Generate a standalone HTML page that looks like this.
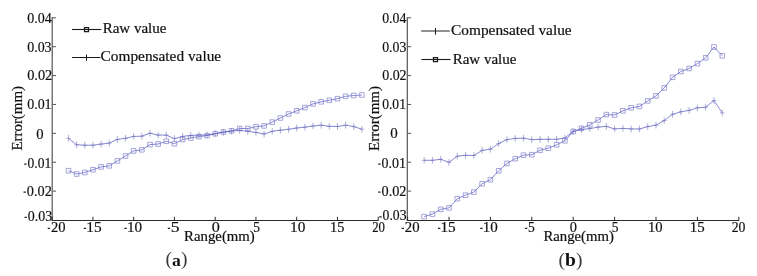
<!DOCTYPE html>
<html><head><meta charset="utf-8"><style>
html,body{margin:0;padding:0;background:#fff;width:757px;height:276px;overflow:hidden}
svg{display:block;will-change:transform}
text{font-family:"Liberation Serif",serif;fill:#111;stroke:#111;stroke-width:0.2px}
</style></head><body>
<svg width="757" height="276" viewBox="0 0 757 276">
<rect width="757" height="276" fill="#fff"/>
<path d="M52.2 17.3V220.5" fill="none" stroke="#555" stroke-width="1.2"/>
<path d="M51.6 220.5H378.7" fill="none" stroke="#2a2a2a" stroke-width="1.1"/>
<path d="M52.2 17.8h3.8M52.2 46.69h3.8M52.2 75.57h3.8M52.2 104.46h3.8M52.2 133.34h3.8M52.2 162.23h3.8M52.2 191.12h3.8" fill="none" stroke="#555" stroke-width="1"/>
<path d="M52.2 220v-3.2M92.95 220v-3.2M133.7 220v-3.2M174.45 220v-3.2M215.2 220v-3.2M255.95 220v-3.2M296.7 220v-3.2M337.45 220v-3.2M378.2 220v-3.2" fill="none" stroke="#2a2a2a" stroke-width="1"/>
<path d="M407.3 17.3V220.5" fill="none" stroke="#555" stroke-width="1.2"/>
<path d="M406.7 220.5H739.3" fill="none" stroke="#2a2a2a" stroke-width="1.1"/>
<path d="M407.3 17.8h3.8M407.3 46.69h3.8M407.3 75.57h3.8M407.3 104.46h3.8M407.3 133.34h3.8M407.3 162.23h3.8M407.3 191.12h3.8" fill="none" stroke="#555" stroke-width="1"/>
<path d="M407.6 220v-3.2M449 220v-3.2M490.4 220v-3.2M531.8 220v-3.2M573.2 220v-3.2M614.6 220v-3.2M656 220v-3.2M697.4 220v-3.2M738.8 220v-3.2" fill="none" stroke="#2a2a2a" stroke-width="1"/>
<path d="M68.5 170.7 L76.65 174 L84.8 172.5 L92.95 169.7 L101.1 166.9 L109.25 165.8 L117.4 160.9 L125.55 156 L133.7 150.9 L141.85 149.8 L150 144.6 L158.15 144 L166.3 141.3 L174.45 143.7 L182.6 139.5 L190.75 138 L198.9 136.6 L207.05 135.6 L215.2 133.7 L223.35 132 L231.5 130.8 L239.65 128.5 L247.8 128.5 L255.95 126.7 L264.1 125.9 L272.25 122.1 L280.4 118 L288.55 114 L296.7 110.8 L304.85 107.6 L313 103.9 L321.15 101.8 L329.3 100.3 L337.45 98.7 L345.6 96.3 L353.75 95.5 L361.9 95" fill="none" stroke="#4a4ac0" stroke-width="0.65" stroke-linejoin="round"/>
<path d="M66.2 168.4h4.6v4.6h-4.6zM74.35 171.7h4.6v4.6h-4.6zM82.5 170.2h4.6v4.6h-4.6zM90.65 167.4h4.6v4.6h-4.6zM98.8 164.6h4.6v4.6h-4.6zM106.95 163.5h4.6v4.6h-4.6zM115.1 158.6h4.6v4.6h-4.6zM123.25 153.7h4.6v4.6h-4.6zM131.4 148.6h4.6v4.6h-4.6zM139.55 147.5h4.6v4.6h-4.6zM147.7 142.3h4.6v4.6h-4.6zM155.85 141.7h4.6v4.6h-4.6zM164 139h4.6v4.6h-4.6zM172.15 141.4h4.6v4.6h-4.6zM180.3 137.2h4.6v4.6h-4.6zM188.45 135.7h4.6v4.6h-4.6zM196.6 134.3h4.6v4.6h-4.6zM204.75 133.3h4.6v4.6h-4.6zM212.9 131.4h4.6v4.6h-4.6zM221.05 129.7h4.6v4.6h-4.6zM229.2 128.5h4.6v4.6h-4.6zM237.35 126.2h4.6v4.6h-4.6zM245.5 126.2h4.6v4.6h-4.6zM253.65 124.4h4.6v4.6h-4.6zM261.8 123.6h4.6v4.6h-4.6zM269.95 119.8h4.6v4.6h-4.6zM278.1 115.7h4.6v4.6h-4.6zM286.25 111.7h4.6v4.6h-4.6zM294.4 108.5h4.6v4.6h-4.6zM302.55 105.3h4.6v4.6h-4.6zM310.7 101.6h4.6v4.6h-4.6zM318.85 99.5h4.6v4.6h-4.6zM327 98h4.6v4.6h-4.6zM335.15 96.4h4.6v4.6h-4.6zM343.3 94h4.6v4.6h-4.6zM351.45 93.2h4.6v4.6h-4.6zM359.6 92.7h4.6v4.6h-4.6z" fill="none" stroke="#8080cc" stroke-width="0.7"/>
<path d="M68.5 138.3 L76.65 144.8 L84.8 145.2 L92.95 145.2 L101.1 144.1 L109.25 143.1 L117.4 139.4 L125.55 138.3 L133.7 136.4 L141.85 136.2 L150 133.2 L158.15 135.1 L166.3 135.1 L174.45 138.6 L182.6 136.4 L190.75 135.4 L198.9 135.1 L207.05 135 L215.2 133.6 L223.35 132.3 L231.5 131.2 L239.65 130.3 L247.8 131.4 L255.95 132.4 L264.1 134 L272.25 131.3 L280.4 130.2 L288.55 129.3 L296.7 128 L304.85 127.2 L313 126 L321.15 125.2 L329.3 126.3 L337.45 126.5 L345.6 125.2 L353.75 126.6 L361.9 129.2" fill="none" stroke="#4a4ac0" stroke-width="0.65" stroke-linejoin="round"/>
<path d="M66.2 138.3h4.6M68.5 135v6.6M74.35 144.8h4.6M76.65 141.5v6.6M82.5 145.2h4.6M84.8 141.9v6.6M90.65 145.2h4.6M92.95 141.9v6.6M98.8 144.1h4.6M101.1 140.8v6.6M106.95 143.1h4.6M109.25 139.8v6.6M115.1 139.4h4.6M117.4 136.1v6.6M123.25 138.3h4.6M125.55 135v6.6M131.4 136.4h4.6M133.7 133.1v6.6M139.55 136.2h4.6M141.85 132.9v6.6M147.7 133.2h4.6M150 129.9v6.6M155.85 135.1h4.6M158.15 131.8v6.6M164 135.1h4.6M166.3 131.8v6.6M172.15 138.6h4.6M174.45 135.3v6.6M180.3 136.4h4.6M182.6 133.1v6.6M188.45 135.4h4.6M190.75 132.1v6.6M196.6 135.1h4.6M198.9 131.8v6.6M204.75 135h4.6M207.05 131.7v6.6M212.9 133.6h4.6M215.2 130.3v6.6M221.05 132.3h4.6M223.35 129v6.6M229.2 131.2h4.6M231.5 127.9v6.6M237.35 130.3h4.6M239.65 127v6.6M245.5 131.4h4.6M247.8 128.1v6.6M253.65 132.4h4.6M255.95 129.1v6.6M261.8 134h4.6M264.1 130.7v6.6M269.95 131.3h4.6M272.25 128v6.6M278.1 130.2h4.6M280.4 126.9v6.6M286.25 129.3h4.6M288.55 126v6.6M294.4 128h4.6M296.7 124.7v6.6M302.55 127.2h4.6M304.85 123.9v6.6M310.7 126h4.6M313 122.7v6.6M318.85 125.2h4.6M321.15 121.9v6.6M327 126.3h4.6M329.3 123v6.6M335.15 126.5h4.6M337.45 123.2v6.6M343.3 125.2h4.6M345.6 121.9v6.6M351.45 126.6h4.6M353.75 123.3v6.6M359.6 129.2h4.6M361.9 125.9v6.6" fill="none" stroke="#7474bc" stroke-width="0.6"/>
<path d="M424.16 160.3 L432.44 160.3 L440.72 159.3 L449 162.3 L457.28 156.2 L465.56 155.3 L473.84 155.5 L482.12 150.4 L490.4 149.2 L498.68 143.6 L506.96 139.6 L515.24 138.4 L523.52 138.2 L531.8 139.6 L540.08 139.3 L548.36 139.3 L556.64 139.3 L564.92 137.9 L573.2 131.4 L581.48 129.6 L589.76 128.6 L598.04 127.1 L606.32 126.4 L614.6 128.9 L622.88 128.4 L631.16 128.9 L639.44 129 L647.72 126.6 L656 125.2 L664.28 120.5 L672.56 114.3 L680.84 111.8 L689.12 110.4 L697.4 107.8 L705.68 107.2 L713.96 100.5 L722.24 112.9" fill="none" stroke="#4a4ac0" stroke-width="0.65" stroke-linejoin="round"/>
<path d="M421.86 160.3h4.6M424.16 157v6.6M430.14 160.3h4.6M432.44 157v6.6M438.42 159.3h4.6M440.72 156v6.6M446.7 162.3h4.6M449 159v6.6M454.98 156.2h4.6M457.28 152.9v6.6M463.26 155.3h4.6M465.56 152v6.6M471.54 155.5h4.6M473.84 152.2v6.6M479.82 150.4h4.6M482.12 147.1v6.6M488.1 149.2h4.6M490.4 145.9v6.6M496.38 143.6h4.6M498.68 140.3v6.6M504.66 139.6h4.6M506.96 136.3v6.6M512.94 138.4h4.6M515.24 135.1v6.6M521.22 138.2h4.6M523.52 134.9v6.6M529.5 139.6h4.6M531.8 136.3v6.6M537.78 139.3h4.6M540.08 136v6.6M546.06 139.3h4.6M548.36 136v6.6M554.34 139.3h4.6M556.64 136v6.6M562.62 137.9h4.6M564.92 134.6v6.6M570.9 131.4h4.6M573.2 128.1v6.6M579.18 129.6h4.6M581.48 126.3v6.6M587.46 128.6h4.6M589.76 125.3v6.6M595.74 127.1h4.6M598.04 123.8v6.6M604.02 126.4h4.6M606.32 123.1v6.6M612.3 128.9h4.6M614.6 125.6v6.6M620.58 128.4h4.6M622.88 125.1v6.6M628.86 128.9h4.6M631.16 125.6v6.6M637.14 129h4.6M639.44 125.7v6.6M645.42 126.6h4.6M647.72 123.3v6.6M653.7 125.2h4.6M656 121.9v6.6M661.98 120.5h4.6M664.28 117.2v6.6M670.26 114.3h4.6M672.56 111v6.6M678.54 111.8h4.6M680.84 108.5v6.6M686.82 110.4h4.6M689.12 107.1v6.6M695.1 107.8h4.6M697.4 104.5v6.6M703.38 107.2h4.6M705.68 103.9v6.6M711.66 100.5h4.6M713.96 97.2v6.6M719.94 112.9h4.6M722.24 109.6v6.6" fill="none" stroke="#7474bc" stroke-width="0.6"/>
<path d="M424.16 216.6 L432.44 214.1 L440.72 209.3 L449 207.9 L457.28 198.7 L465.56 195.2 L473.84 192.1 L482.12 183.8 L490.4 179.7 L498.68 170.8 L506.96 163.4 L515.24 158.7 L523.52 155.2 L531.8 154.7 L540.08 150.3 L548.36 148.2 L556.64 144.8 L564.92 140.8 L573.2 131.5 L581.48 128.3 L589.76 124.8 L598.04 120 L606.32 114.6 L614.6 115 L622.88 110.8 L631.16 107.8 L639.44 106.4 L647.72 100.9 L656 95.9 L664.28 87.9 L672.56 77.3 L680.84 71.5 L689.12 68.5 L697.4 63.6 L705.68 57.8 L713.96 47 L722.24 55.8" fill="none" stroke="#4a4ac0" stroke-width="0.65" stroke-linejoin="round"/>
<path d="M421.86 214.3h4.6v4.6h-4.6zM430.14 211.8h4.6v4.6h-4.6zM438.42 207h4.6v4.6h-4.6zM446.7 205.6h4.6v4.6h-4.6zM454.98 196.4h4.6v4.6h-4.6zM463.26 192.9h4.6v4.6h-4.6zM471.54 189.8h4.6v4.6h-4.6zM479.82 181.5h4.6v4.6h-4.6zM488.1 177.4h4.6v4.6h-4.6zM496.38 168.5h4.6v4.6h-4.6zM504.66 161.1h4.6v4.6h-4.6zM512.94 156.4h4.6v4.6h-4.6zM521.22 152.9h4.6v4.6h-4.6zM529.5 152.4h4.6v4.6h-4.6zM537.78 148h4.6v4.6h-4.6zM546.06 145.9h4.6v4.6h-4.6zM554.34 142.5h4.6v4.6h-4.6zM562.62 138.5h4.6v4.6h-4.6zM570.9 129.2h4.6v4.6h-4.6zM579.18 126h4.6v4.6h-4.6zM587.46 122.5h4.6v4.6h-4.6zM595.74 117.7h4.6v4.6h-4.6zM604.02 112.3h4.6v4.6h-4.6zM612.3 112.7h4.6v4.6h-4.6zM620.58 108.5h4.6v4.6h-4.6zM628.86 105.5h4.6v4.6h-4.6zM637.14 104.1h4.6v4.6h-4.6zM645.42 98.6h4.6v4.6h-4.6zM653.7 93.6h4.6v4.6h-4.6zM661.98 85.6h4.6v4.6h-4.6zM670.26 75h4.6v4.6h-4.6zM678.54 69.2h4.6v4.6h-4.6zM686.82 66.2h4.6v4.6h-4.6zM695.1 61.3h4.6v4.6h-4.6zM703.38 55.5h4.6v4.6h-4.6zM711.66 44.7h4.6v4.6h-4.6zM719.94 53.5h4.6v4.6h-4.6z" fill="none" stroke="#8080cc" stroke-width="0.7"/>
<path d="M72 29.5H101.2" fill="none" stroke="#1a1a1a" stroke-width="1.1"/>
<path d="M84.5 27.5h4v4h-4z" fill="none" stroke="#1a1a1a" stroke-width="1.25"/>
<path d="M72 57.5H100.5M86.5 54.6v6.2" fill="none" stroke="#1a1a1a" stroke-width="1"/>
<path d="M421.2 31H449.8" fill="none" stroke="#222" stroke-width="1"/>
<path d="M435.5 28v6.7" fill="none" stroke="#1a1a1a" stroke-width="1"/>
<path d="M421.4 59.5H450.5" fill="none" stroke="#1a1a1a" stroke-width="1.1"/>
<path d="M433.5 57.5h4v4h-4z" fill="none" stroke="#1a1a1a" stroke-width="1.25"/>
<path d="M24.20 164.10H26.60M23.50 192.20H25.90M24.50 217.40H26.90M378.20 164.10H380.60M378.20 192.20H380.60M379.20 216.80H381.60M47.70 228.30H50.10M83.70 228.30H86.10M124.30 228.30H126.70M167.80 228.30H170.20M401.60 228.30H404.00M437.90 228.30H440.30M480.20 228.30H482.60M524.90 228.30H527.30" fill="none" stroke="#222" stroke-width="1.2"/>
<text x="27.17" y="22.97" font-size="15.20" textLength="24.53" lengthAdjust="spacingAndGlyphs">0.04</text>
<text x="27.18" y="51.97" font-size="15.20" textLength="24.40" lengthAdjust="spacingAndGlyphs">0.03</text>
<text x="27.16" y="79.87" font-size="15.20" textLength="25.06" lengthAdjust="spacingAndGlyphs">0.02</text>
<text x="27.18" y="108.97" font-size="15.20" textLength="24.40" lengthAdjust="spacingAndGlyphs">0.01</text>
<text x="36.15" y="138.78" font-size="15.20" textLength="7.33" lengthAdjust="spacingAndGlyphs">0</text>
<text x="27.57" y="167.87" font-size="15.20" textLength="23.65" lengthAdjust="spacingAndGlyphs">0.01</text>
<text x="26.84" y="195.90" font-size="15.20" textLength="24.97" lengthAdjust="spacingAndGlyphs">0.02</text>
<text x="27.85" y="221.21" font-size="15.20" textLength="24.37" lengthAdjust="spacingAndGlyphs">0.03</text>
<text x="382.19" y="22.90" font-size="15.20" textLength="24.14" lengthAdjust="spacingAndGlyphs">0.04</text>
<text x="382.19" y="51.90" font-size="15.20" textLength="24.13" lengthAdjust="spacingAndGlyphs">0.03</text>
<text x="382.18" y="79.87" font-size="15.20" textLength="24.40" lengthAdjust="spacingAndGlyphs">0.02</text>
<text x="382.20" y="108.88" font-size="15.20" textLength="23.73" lengthAdjust="spacingAndGlyphs">0.01</text>
<text x="390.23" y="138.09" font-size="15.20" textLength="7.49" lengthAdjust="spacingAndGlyphs">0</text>
<text x="381.53" y="167.79" font-size="15.20" textLength="24.45" lengthAdjust="spacingAndGlyphs">0.01</text>
<text x="381.54" y="195.90" font-size="15.20" textLength="24.97" lengthAdjust="spacingAndGlyphs">0.02</text>
<text x="382.56" y="220.28" font-size="15.20" textLength="23.97" lengthAdjust="spacingAndGlyphs">0.03</text>
<text x="50.99" y="232.00" font-size="14.70" textLength="14.61" lengthAdjust="spacingAndGlyphs">20</text>
<text x="86.23" y="232.00" font-size="14.70" textLength="15.41" lengthAdjust="spacingAndGlyphs">15</text>
<text x="126.95" y="232.00" font-size="14.70" textLength="15.16" lengthAdjust="spacingAndGlyphs">10</text>
<text x="170.80" y="232.00" font-size="14.70" textLength="8.82" lengthAdjust="spacingAndGlyphs">5</text>
<text x="211.80" y="232.00" font-size="14.70" textLength="8.06" lengthAdjust="spacingAndGlyphs">0</text>
<text x="253.35" y="232.00" font-size="14.70" textLength="6.73" lengthAdjust="spacingAndGlyphs">5</text>
<text x="290.10" y="232.00" font-size="14.70" textLength="15.33" lengthAdjust="spacingAndGlyphs">10</text>
<text x="330.10" y="232.00" font-size="14.70" textLength="14.32" lengthAdjust="spacingAndGlyphs">15</text>
<text x="372.20" y="232.00" font-size="14.70" textLength="12.81" lengthAdjust="spacingAndGlyphs">20</text>
<text x="404.89" y="232.00" font-size="14.70" textLength="14.77" lengthAdjust="spacingAndGlyphs">20</text>
<text x="440.43" y="232.00" font-size="14.70" textLength="15.30" lengthAdjust="spacingAndGlyphs">15</text>
<text x="482.85" y="232.00" font-size="14.70" textLength="15.03" lengthAdjust="spacingAndGlyphs">10</text>
<text x="528.01" y="232.00" font-size="14.70" textLength="6.77" lengthAdjust="spacingAndGlyphs">5</text>
<text x="569.86" y="232.00" font-size="14.70" textLength="7.18" lengthAdjust="spacingAndGlyphs">0</text>
<text x="611.64" y="232.00" font-size="14.70" textLength="6.74" lengthAdjust="spacingAndGlyphs">5</text>
<text x="648.07" y="232.00" font-size="14.70" textLength="14.60" lengthAdjust="spacingAndGlyphs">10</text>
<text x="689.76" y="232.00" font-size="14.70" textLength="14.90" lengthAdjust="spacingAndGlyphs">15</text>
<text x="731.69" y="232.00" font-size="14.70" textLength="13.76" lengthAdjust="spacingAndGlyphs">20</text>
<text x="102.67" y="32.97" font-size="14.20" textLength="63.82" lengthAdjust="spacingAndGlyphs">Raw value</text>
<text x="100.62" y="61.26" font-size="14.20" textLength="120.53" lengthAdjust="spacingAndGlyphs">Compensated value</text>
<text x="451.12" y="34.79" font-size="14.20" textLength="120.53" lengthAdjust="spacingAndGlyphs">Compensated value</text>
<text x="452.67" y="63.54" font-size="14.20" textLength="63.70" lengthAdjust="spacingAndGlyphs">Raw value</text>
<text x="184.08" y="240.94" font-size="14.30" textLength="70.71" lengthAdjust="spacingAndGlyphs">Range(mm)</text>
<text x="543.40" y="241.02" font-size="14.30" textLength="70.46" lengthAdjust="spacingAndGlyphs">Range(mm)</text>
<text transform="translate(22.15 150.55) rotate(-90)" font-size="14.30" textLength="64.50" lengthAdjust="spacingAndGlyphs">Error(mm)</text>
<text transform="translate(378.94 150.95) rotate(-90)" font-size="14.30" textLength="64.88" lengthAdjust="spacingAndGlyphs">Error(mm)</text>
<text x="165.55" y="265.35" font-size="19.60" textLength="21.90" lengthAdjust="spacingAndGlyphs" style="stroke-width:0;fill:#3a3a3a">(<tspan font-weight="bold" font-size="17.6" dy="0.7" style="fill:#111">a</tspan><tspan dy="-0.7">)</tspan></text>
<text x="558.62" y="265.72" font-size="19.60" textLength="23.81" lengthAdjust="spacingAndGlyphs" style="stroke-width:0;fill:#3a3a3a">(<tspan font-weight="bold" style="fill:#111">b</tspan>)</text>
</svg>
</body></html>
